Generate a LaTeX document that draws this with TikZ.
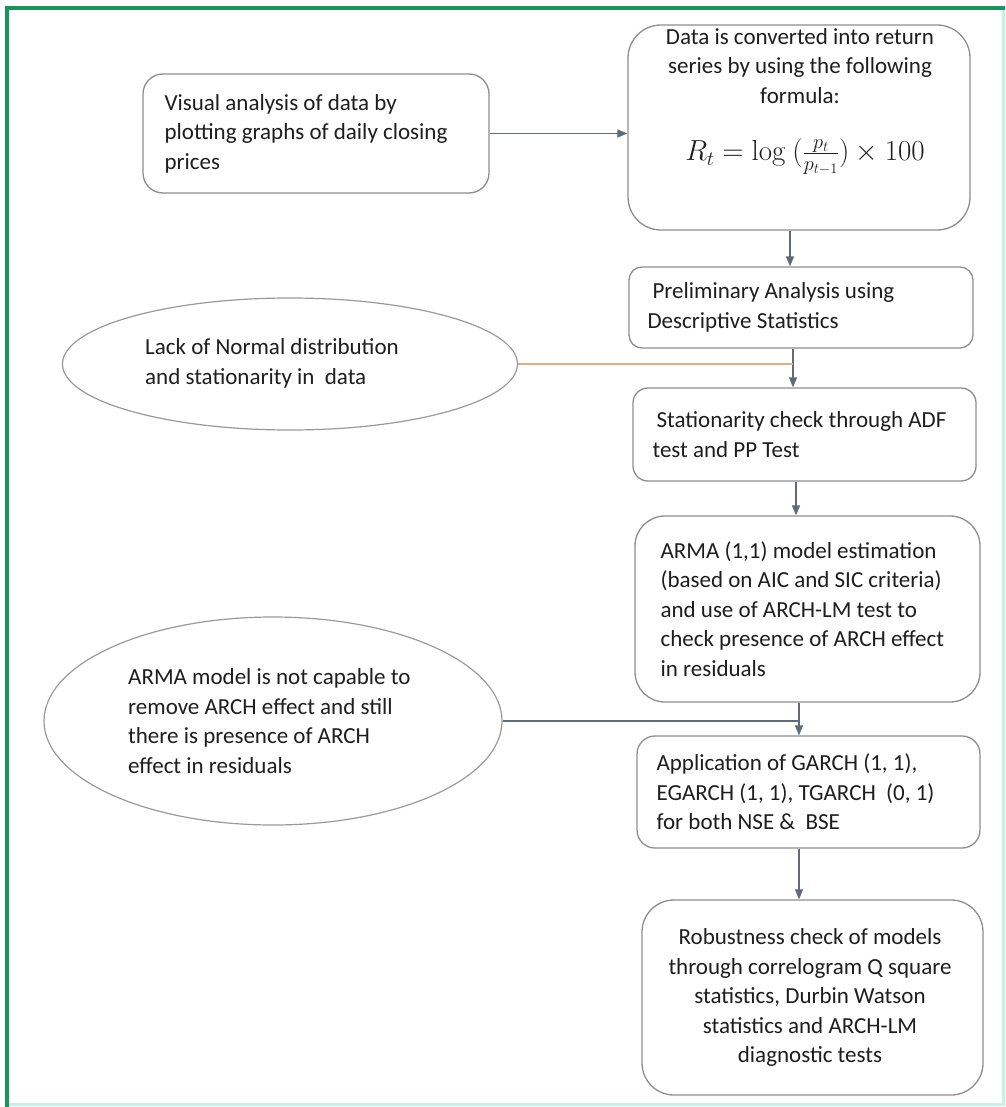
\RequirePackage{fix-cm}
\documentclass[tikz,border=0pt]{standalone}
\usepackage[no-math]{fontspec}
\setmainfont{Carlito}
\usetikzlibrary{arrows.meta,shapes.geometric}

\definecolor{framegreen}{HTML}{17955A}
\definecolor{framelight}{HTML}{C6F2E0}
\definecolor{boxline}{HTML}{8E8E8E}
\definecolor{ovalline}{HTML}{9A9A9A}
\definecolor{flowcol}{HTML}{5F6B78}
\definecolor{feedorange}{HTML}{E2AE80}
\definecolor{inkcol}{HTML}{1E1E1E}

\tikzset{
  box/.style={draw=boxline, line width=1.3pt, fill=white, inner sep=0pt},
  oval/.style={ellipse, draw=ovalline, line width=1.2pt, fill=white, inner sep=0pt},
  txt/.style={inner sep=0pt, align=left, text=inkcol,
              font=\fontsize{23}{29.5}\selectfont},
  flow/.style={draw=flowcol, line width=1.4pt,
               -{Triangle[length=10pt,width=8pt]}},
  feed/.style={line width=1.4pt}
}

\begin{document}
\begin{tikzpicture}[x=1pt,y=-1pt]
  % page and frame
  \useasboundingbox (0,0) rectangle (1005,1107);
  \fill[white] (0,0) rectangle (1005,1107);
  \draw[framelight, line width=3pt] (7,1104) -- (1003,1104) -- (1003,8);
  \draw[framegreen, line width=3.5pt] (7,1107) -- (7,8) -- (1005,8);

  % columns of the vertical connectors
  \coordinate (colA) at (790,0);
  \coordinate (colB) at (793,0);
  \coordinate (colC) at (796,0);
  \coordinate (colD) at (799,0);

  % process boxes
  \node[box, rounded corners=20pt, minimum width=346pt, minimum height=119pt]
    (visual) at (316,133.5) {};
  \node[txt, anchor=west] (visualtxt) at ([xshift=22pt]visual.west)
    {Visual analysis of data by\\plotting graphs of daily closing\\prices};

  \node[box, rounded corners=33pt, minimum width=342pt, minimum height=205pt]
    (convert) at (799,127.5) {};
  \node[txt, align=center, anchor=north] (converttxt) at (800,28)
    {Data is converted into return\\series by using the following\\formula:};
  \node[txt, font=\fontsize{29}{34}\selectfont] (formula) at (805,157)
    {$R_t = \log\ (\frac{p_t}{p_{t-1}}) \times 100$};

  \node[box, rounded corners=13pt, minimum width=344pt, minimum height=81pt]
    (prelim) at (801,307.5) {};
  \node[txt, anchor=west] (prelimtxt) at ([xshift=19pt]prelim.west)
    {\hspace{5pt}Preliminary Analysis using\\Descriptive Statistics};

  \node[box, rounded corners=15pt, minimum width=343pt, minimum height=93pt]
    (station) at (804.5,434.5) {};
  \node[txt, anchor=west] (stationtxt) at ([xshift=20pt]station.west)
    {\hspace{4pt}Stationarity check through ADF\\test and PP Test};

  \node[box, rounded corners=30pt, minimum width=345pt, minimum height=186pt]
    (arma) at (807.5,609) {};
  \node[txt, anchor=west] (armatxt) at ([xshift=26pt]arma.west)
    {ARMA (1,1) model estimation\\(based on AIC and SIC criteria)\\and use of ARCH-LM test to\\check presence of ARCH effect\\in residuals};

  \node[box, rounded corners=18pt, minimum width=343pt, minimum height=112pt]
    (garch) at (808.5,792) {};
  \node[txt, anchor=west] (garchtxt) at ([xshift=20pt]garch.west)
    {Application of GARCH (1, 1),\\EGARCH (1, 1), TGARCH \ (0, 1)\\for both NSE \&\ \ BSE};

  \node[box, rounded corners=32pt, minimum width=341pt, minimum height=195pt]
    (robust) at (812.5,997.5) {};
  \node[txt, align=center] (robusttxt) at (810,997.5)
    {Robustness check of models\\through correlogram Q square\\statistics, Durbin Watson\\statistics and ARCH-LM\\diagnostic tests};

  % outcome ovals
  \node[oval, minimum width=455pt, minimum height=132pt] (lack) at (290,364) {};
  \node[txt, anchor=west] (lacktxt) at (145,363.5)
    {Lack of Normal distribution\\and stationarity in \ data};

  \node[oval, minimum width=458pt, minimum height=208pt] (archleft) at (273,721) {};
  \node[txt, anchor=west] (archlefttxt) at (128,721)
    {ARMA model is not capable to\\remove ARCH effect and still\\there is presence of ARCH\\effect in residuals};

  % connectors
  \draw[flow] (visual.east) -- (visual.east -| convert.west);
  \draw[flow] (convert.south -| colA) -- (prelim.north -| colA);
  \draw[flow] (prelim.south -| colB) -- (station.north -| colB);
  \draw[flow] (station.south -| colC) -- (arma.north -| colC);
  \draw[flow] (arma.south -| colD) -- (garch.north -| colD);
  \draw[flow] (garch.south -| colD) -- (robust.north -| colD);

  \draw[feed, feedorange] (lack.east) -- (lack.east -| colB);
  \draw[feed, flowcol] (archleft.east) -- (archleft.east -| colD);
\end{tikzpicture}
\end{document}
